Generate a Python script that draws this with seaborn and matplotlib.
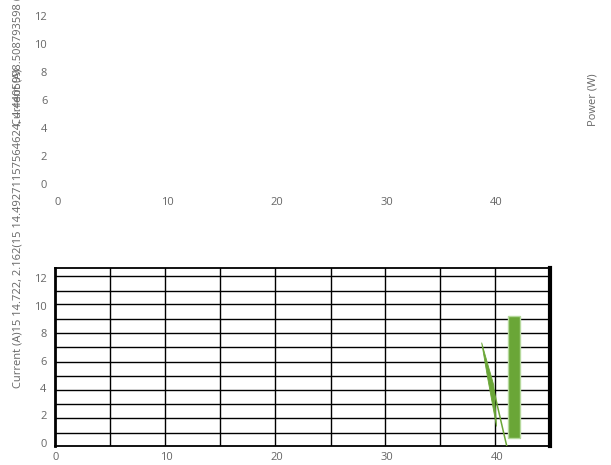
import matplotlib
matplotlib.use("Agg")
import matplotlib.pyplot as plt
from matplotlib.patches import Polygon
import seaborn as sns

# data
x_ticks = [0, 10, 20, 30, 40]
y_ticks = [0, 2, 4, 6, 8, 10, 12]

# bar (current)
bar_x = [41.5]
bar_bottom = [0.36]
bar_top = [9.24]

# thin green wedge (current trace)
wedge_x = [38.6, 39.7, 39.95, 39.15]
wedge_y = [7.3, 4.2, 1.2, 4.7]
tail_x = [39.65, 40.9]
tail_y = [4.0, -0.3]

# grid lines of the lower panel
grid_x = [4.9, 9.9, 14.9, 19.9, 24.9, 29.85, 34.8, 39.8]
grid_y = [0.73, 1.82, 2.84, 3.85, 4.87, 5.89, 6.98, 8.0, 9.02, 10.1, 11.05, 12.15]

long_label = "Current (A)15 14.722, 2.162(15 14.49271157564624, 4.4405998.508793598 (6"

sns.set_style("white")
plt.rcParams["font.family"] = ["Open Sans", "DejaVu Sans"]

W, H = 611, 465
fig = plt.figure(figsize=(W / 100, H / 100), dpi=100)
grey = "#666666"
green = "#6aa637"
fs = 8.0

# top panel: no frame, only tick labels
ax1 = fig.add_axes([57 / W, 1 - 187 / H, 492 / W, 181 / H])
ax1.set_xlim(-0.1, 44.8)
ax1.set_ylim(-0.22, 12.73)
ax1.set_xticks(x_ticks)
ax1.set_yticks(y_ticks)
ax1.tick_params(length=0, colors=grey, labelsize=fs)
ax1.tick_params(axis="y", pad=7)
ax1.tick_params(axis="x", pad=7)
sns.despine(ax=ax1, left=True, bottom=True)
ax1.set_facecolor("none")

# bottom panel
ax2 = fig.add_axes([55 / W, 1 - 446 / H, 495 / W, 178 / H])
ax2.set_xlim(-0.1, 44.8)
ax2.set_ylim(-0.22, 12.73)
ax2.set_xticks(x_ticks)
ax2.set_yticks(y_ticks)
ax2.tick_params(length=0, colors=grey, labelsize=fs)
ax2.tick_params(axis="y", pad=6)
ax2.tick_params(axis="x", pad=4.5)
for gx in grid_x:
    ax2.axvline(gx, color="black", lw=1.0, zorder=1)
for gy in grid_y:
    ax2.axhline(gy, color="black", lw=1.0, zorder=1)
for side, lw in [("left", 2), ("right", 3), ("top", 1.3), ("bottom", 1.3)]:
    ax2.spines[side].set_visible(True)
    ax2.spines[side].set_color("black")
    ax2.spines[side].set_linewidth(lw)

ax2.add_patch(Polygon(list(zip(wedge_x, wedge_y)), closed=True,
                      facecolor=green, edgecolor=green, lw=0.6, zorder=3))
sns.lineplot(x=tail_x, y=tail_y, ax=ax2, color=green, lw=1.1, zorder=3)
ax2.bar(bar_x, [t - b for t, b in zip(bar_top, bar_bottom)], bottom=bar_bottom,
        width=1.1, color=green, edgecolor="#b5d99c", lw=1, zorder=4)

# overlapping axis titles
fig.text(18 / W, 1 - 388 / H, long_label, rotation=90, ha="center", va="bottom",
         color=grey, fontsize=fs)
fig.text(18 / W, 1 - 97 / H, "Current (A)", rotation=90, ha="center", va="center",
         color=grey, fontsize=fs)
fig.text(593 / W, 1 - 100 / H, "Power (W)", rotation=90, ha="center", va="center",
         color=grey, fontsize=fs)

fig.savefig("out.png", dpi=100)
